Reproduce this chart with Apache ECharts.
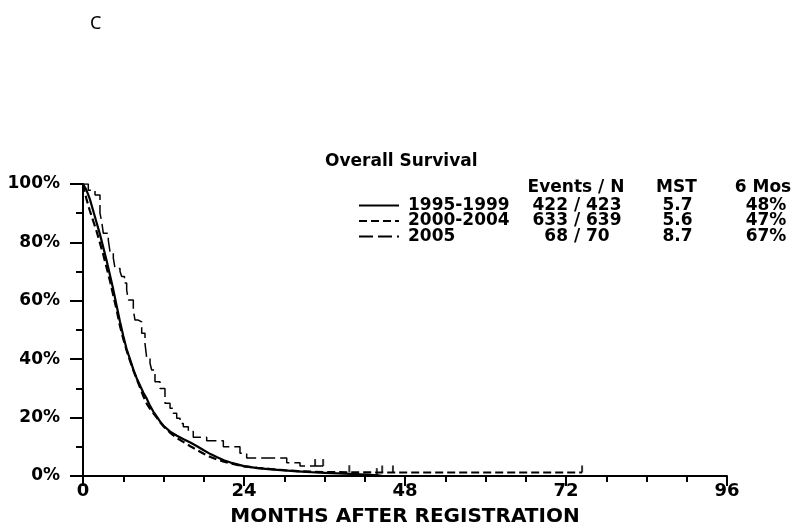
<!DOCTYPE html>
<html>
<head>
<meta charset="utf-8">
<script src="https://cdn.jsdelivr.net/npm/echarts@6/dist/echarts.min.js"></script>
<style>html,body{margin:0;padding:0;background:#fff;}#c{width:800px;height:532px;}</style>
</head>
<body>
<div id="c"></div>
<script>
// ---- data ----
const groups = ['1995-1999', '2000-2004', '2005'];
const eventsN = ['422 / 423', '633 / 639', '68 / 70'];
const mst = ['5.7', '5.6', '8.7'];
const sixMos = ['48%', '47%', '67%'];
const tableHeader = ['Events / N', 'MST', '6 Mos'];
const xTicks = [0, 24, 48, 72, 96];

const months9599 = [0,0.5,1,1.5,2,2.5,3,3.5,4,4.5,5,5.5,6,6.5,7,7.5,8,8.5,9,9.5,10,10.5,11,11.5,12,13,14,15,16,17,18,19,20,21,22,23,24,26,28,30,32,34,36,38,40,42,44,44.7];
const surv9599   = [100,98,95,91,87,83,78.5,74,69,64,58.5,53,48,43.5,40,36.5,33.5,31,28.5,26.5,24,22,20.3,18.6,17.2,15.2,13.8,12.6,11.5,10.2,8.8,7.5,6.4,5.4,4.6,4.0,3.4,2.7,2.3,1.9,1.6,1.3,1.1,0.9,0.7,0.5,0.25,0];

const months0004 = [0,0.5,1,1.5,2,2.5,3,3.5,4,4.5,5,5.5,6,6.5,7,7.5,8,8.5,9,9.5,10,10.5,11,11.5,12,13,14,15,16,17,18,19,20,21,22,23,24,26,28,30,32,34,36,38,40,44,46.2,74.4];
const surv0004   = [100,95,91,87.5,84,80,76,71.5,67,62,57,51.5,47,43,39.5,36.2,33.2,30.3,27.3,24.8,23,21.5,20,18.4,17,14.8,13,11.6,10.2,8.9,7.6,6.5,5.6,4.9,4.3,3.8,3.3,2.8,2.4,2.0,1.7,1.5,1.35,1.3,1.25,1.2,1.2,1.2];

const months05 = [0,0.79,1.79,2.53,2.79,3.03,3.77,4.03,4.52,4.77,5.52,5.77,6.18,6.51,6.75,7.5,7.75,8.24,8.75,9.24,9.5,9.99,10.24,10.73,11.48,12.22,12.97,13.46,13.97,14.46,14.95,15.7,16.44,18.44,20.92,23.4,24.4,30.37,32.35,35.8];
const surv05   = [100,97.9,96.2,90.0,87.1,83.1,80.8,76.8,74.6,71.1,70.0,68.3,66.1,63.7,60.3,56.8,53.4,52.8,48.9,45.4,40.3,38.6,36.3,32.3,30.0,24.9,23.2,21.5,19.8,18.0,16.9,15.2,13.3,12.1,10.0,7.8,6.2,4.55,3.4,3.4];

const censorT9599 = [43.8];
const censorS9599 = [0.3];
const censorT0004 = [39.7, 44.6, 46.2, 74.4];
const censorS0004 = [1.3, 1.2, 1.2, 1.2];
const censorT05 = [34.6, 35.8];
const censorS05 = [3.4, 3.4];

// ---- build ----
const zip = (a, b) => a.map((v, i) => [v, b[i]]);
const FONT = 'DejaVu Sans';
const LH = 15.5;
const base = {fontSize: 17, fontWeight: 'bold', fontFamily: FONT, color: '#000', lineHeight: LH};
const tableRich = {
  p: Object.assign({width: 4}, base),
  a: Object.assign({width: 112, align: 'left'}, base),
  b: Object.assign({width: 114, align: 'center'}, base),
  c: Object.assign({width: 87, align: 'center'}, base),
  d: Object.assign({width: 90, align: 'center'}, base)
};
const headerX = [576, 676.5, 763];

const censorSeries = (name, t, s) => ({
  name: name, type: 'scatter', data: zip(t, s), symbol: 'rect', symbolSize: [2, 7],
  symbolOffset: [0, '-50%'], itemStyle: {color: '#000'}, silent: true, z: 5
});

const chart = echarts.init(document.getElementById('c'), null, {renderer: 'canvas'});
chart.setOption({
  animation: false,
  backgroundColor: '#fff',
  title: {
    text: 'Overall Survival', left: 325, top: 153, padding: 0,
    textStyle: {fontSize: 17, fontWeight: 'bold', fontFamily: FONT, color: '#000'}
  },
  legend: {
    data: groups, orient: 'vertical', left: 358, top: 197, padding: 0, itemGap: -1.5,
    itemWidth: 40, itemHeight: 12, selectedMode: false,
    itemStyle: {opacity: 0, borderWidth: 0},
    formatter: function (name) {
      const i = groups.indexOf(name);
      return '{p| }{a|' + name + '}{b|' + eventsN[i] + '}{c|' + mst[i] + '}{d|' + sixMos[i] + '}';
    },
    textStyle: Object.assign({rich: tableRich}, base)
  },
  graphic: [
    {type: 'text', left: 90, top: 15, style: {text: 'C', fontSize: 18, fontFamily: 'Noto Sans', fill: '#000'}}
  ].concat(tableHeader.map((h, i) => ({
    type: 'text', x: headerX[i], y: 188,
    style: {text: h, fontSize: 17, fontWeight: 'bold', fontFamily: FONT, fill: '#000', align: 'center', verticalAlign: 'middle'}
  }))),
  grid: {left: 83, right: 73, top: 184, bottom: 56, containLabel: false, outerBoundsMode: 'none'},
  xAxis: {
    type: 'value', min: 0, max: 96, interval: 24,
    name: 'MONTHS AFTER REGISTRATION', nameLocation: 'middle', nameGap: 31,
    nameTextStyle: {fontSize: 20, fontWeight: 'bold', fontFamily: FONT, color: '#000'},
    axisLine: {show: true, lineStyle: {color: '#000', width: 2}},
    axisTick: {show: true, length: 10, lineStyle: {color: '#000', width: 2}},
    minorTick: {show: true, splitNumber: 4, length: 6, lineStyle: {color: '#000', width: 2}},
    splitLine: {show: false}, minorSplitLine: {show: false},
    axisLabel: {margin: 6, fontSize: 18, fontWeight: 'bold', fontFamily: FONT, color: '#000',
      formatter: v => (xTicks.indexOf(v) >= 0 ? String(v) : '')}
  },
  yAxis: {
    type: 'value', min: 0, max: 100, interval: 20,
    axisLine: {show: true, lineStyle: {color: '#000', width: 2}},
    axisTick: {show: true, length: 13, lineStyle: {color: '#000', width: 2}},
    minorTick: {show: true, splitNumber: 2, length: 7, lineStyle: {color: '#000', width: 2}},
    splitLine: {show: false}, minorSplitLine: {show: false},
    axisLabel: {margin: 23, fontSize: 17, fontWeight: 'bold', fontFamily: FONT, color: '#000', formatter: '{value}%'}
  },
  series: [
    {name: groups[0], type: 'line', data: zip(months9599, surv9599), symbol: 'none', silent: true,
      lineStyle: {color: '#000', width: 2.2, type: 'solid'}, itemStyle: {color: '#000'}, z: 3},
    {name: groups[1], type: 'line', data: zip(months0004, surv0004), symbol: 'none', silent: true,
      lineStyle: {color: '#000', width: 2.2, type: [8, 4]}, itemStyle: {color: '#000'}, z: 3},
    {name: groups[2], type: 'line', step: 'end', data: zip(months05, surv05), symbol: 'none', silent: true,
      lineStyle: {color: '#000', width: 1.5, type: [14, 5]}, itemStyle: {color: '#000'}, z: 3},
    censorSeries('c1', censorT9599, censorS9599),
    censorSeries('c2', censorT0004, censorS0004),
    censorSeries('c3', censorT05, censorS05)
  ]
});
</script>
</body>
</html>
